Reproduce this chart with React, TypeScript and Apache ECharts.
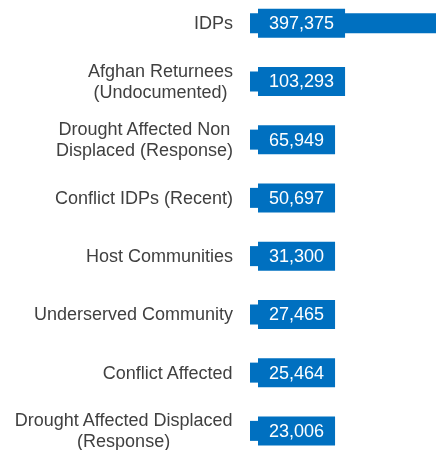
import React, { useEffect, useRef } from "react";
import * as echarts from "echarts";

const categories: string[] = [
  "IDPs",
  "Afghan Returnees\n(Undocumented)",
  "Drought Affected Non\nDisplaced (Response)",
  "Conflict IDPs (Recent)",
  "Host Communities",
  "Underserved Community",
  "Conflict Affected",
  "Drought Affected Displaced\n(Response)",
];

const values: number[] = [397375, 103293, 65949, 50697, 31300, 27465, 25464, 23006];

const BLUE = "#0070C0";
const FONT = "'Liberation Sans', Arial, sans-serif";

export default function App() {
  const ref = useRef<HTMLDivElement>(null);

  useEffect(() => {
    if (!ref.current) return;
    const chart = echarts.init(ref.current, undefined, { renderer: "svg" });
    chart.setOption({
      animation: false,
      grid: {
        left: 250,
        right: 0,
        top: -6,
        bottom: -10,
        containLabel: false,
        outerBoundsMode: "none",
      },
      xAxis: {
        type: "value",
        min: 0,
        max: 397375,
        show: false,
      },
      yAxis: {
        type: "category",
        inverse: true,
        data: categories,
        axisLine: { show: false },
        axisTick: { show: false },
        splitLine: { show: false },
        axisLabel: {
          interval: 0,
          margin: 17,
          align: "right",
          color: "#404040",
          fontSize: 18,
          fontFamily: FONT,
          lineHeight: 21,
          formatter: (v: string) =>
            v
              .split("\n")
              .map((l) => `{c|${l}}`)
              .join("\n"),
          rich: {
            c: {
              align: "center",
              color: "#404040",
              fontSize: 18,
              fontFamily: FONT,
              lineHeight: 21,
            },
          },
        },
      },
      series: [
        {
          type: "bar",
          data: values,
          barWidth: 20,
          itemStyle: { color: BLUE },
          label: {
            show: true,
            position: "insideLeft",
            distance: 8,
            color: "#ffffff",
            fontSize: 18,
            fontFamily: FONT,
            backgroundColor: BLUE,
            padding: [5.5, 11],
            formatter: (p: any) => Number(p.value).toLocaleString("en-US"),
          },
        },
      ],
    });
    return () => chart.dispose();
  }, []);

  return (
    <div
      ref={ref}
      style={{ position: "fixed", left: 0, top: 0, width: 436, height: 450 }}
    />
  );
}
